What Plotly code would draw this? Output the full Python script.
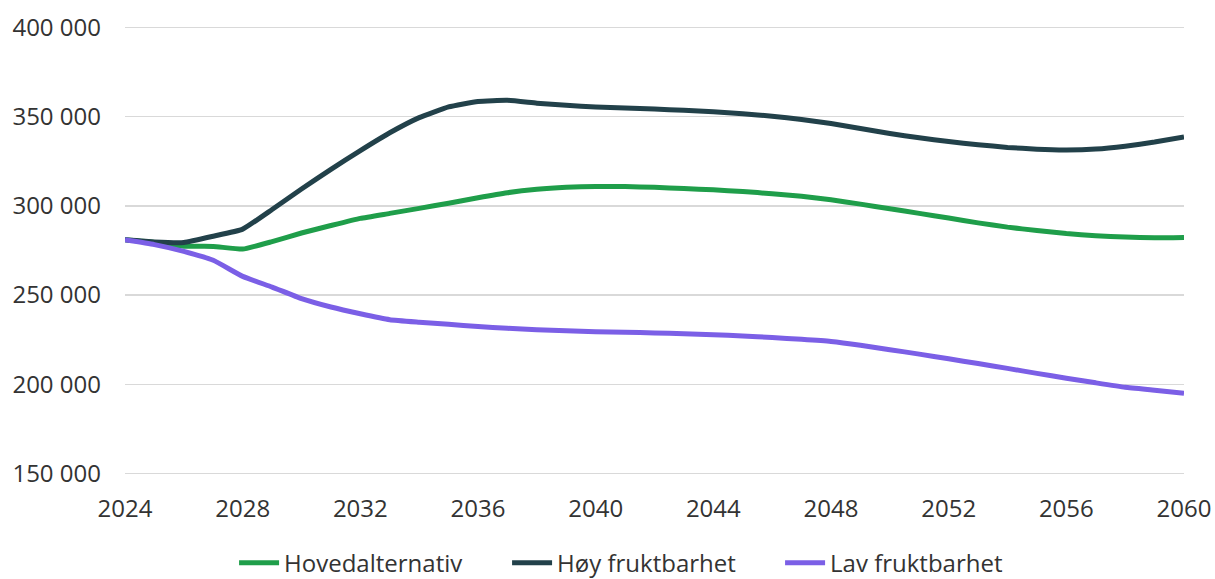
import plotly.graph_objects as go

years = list(range(2024, 2061))

hovedalternativ = [281000, 279500, 277400, 277300, 275800, 280000, 284800, 289000, 293000, 295800,
                   298600, 301500, 304600, 307400, 309300, 310400, 310900, 310900, 310400, 309700,
                   309000, 308100, 306800, 305400, 303400, 301000, 298400, 295800, 293200, 290500,
                   288100, 286200, 284500, 283300, 282500, 282100, 282300]

hoy_fruktbarhet = [281000, 279800, 279500, 283000, 287000, 298000, 309500, 320500, 331000, 341000,
                   349500, 355500, 358600, 359200, 357600, 356400, 355500, 354900, 354300, 353600,
                   352800, 351700, 350300, 348500, 346200, 343400, 340600, 338200, 336100, 334300,
                   332800, 331800, 331400, 331900, 333500, 335800, 338600]

lav_fruktbarhet = [281000, 278300, 274500, 269500, 260500, 254500, 248000, 243300, 239500, 236200,
                   234800, 233600, 232400, 231400, 230600, 230000, 229500, 229100, 228800, 228300,
                   227800, 227100, 226200, 225200, 224000, 221900, 219400, 216900, 214300, 211600,
                   208900, 206100, 203400, 200800, 198300, 196700, 195000]

series = [
    ("Hovedalternativ", hovedalternativ, "#1f9e4a"),
    ("Høy fruktbarhet", hoy_fruktbarhet, "#22414a"),
    ("Lav fruktbarhet", lav_fruktbarhet, "#7b5fe6"),
]

fig = go.Figure()
for name, vals, color in series:
    fig.add_trace(go.Scatter(x=years, y=vals, name=name, mode="lines",
                             line=dict(color=color, width=5, shape="spline", smoothing=0.4)))

font = "Open Sans, Noto Sans, sans-serif"
fig.update_layout(
    width=1215, height=579,
    margin=dict(l=125, r=31, t=24, b=102, autoexpand=False),
    paper_bgcolor="white", plot_bgcolor="white",
    font=dict(family=font, size=24, color="#333333"),
    separators=", ",
    showlegend=True,
    legend=dict(orientation="h", x=0.103, xanchor="left", y=-0.19, yanchor="middle",
                font=dict(size=24, color="#333333"), itemwidth=40, tracegroupgap=0,
                entrywidth=218, entrywidthmode="pixels"),
    hovermode=False,
)
fig.update_xaxes(range=[2024, 2060], tickvals=list(range(2024, 2061, 4)),
                 showgrid=False, zeroline=False, showline=False, ticks="",
                 ticklabelstandoff=15, fixedrange=True, automargin=False)
fig.update_yaxes(range=[148000, 402000], tickvals=[150000, 200000, 250000, 300000, 350000, 400000],
                 tickformat=",d", showgrid=True, gridcolor="#d9d9d9", gridwidth=1.5,
                 zeroline=False, showline=False, ticks="", ticklabelstandoff=23,
                 fixedrange=True, automargin=False)

fig.write_html("out.html", config={"displayModeBar": False, "staticPlot": True},
               post_script="document.body.style.margin='0';")
